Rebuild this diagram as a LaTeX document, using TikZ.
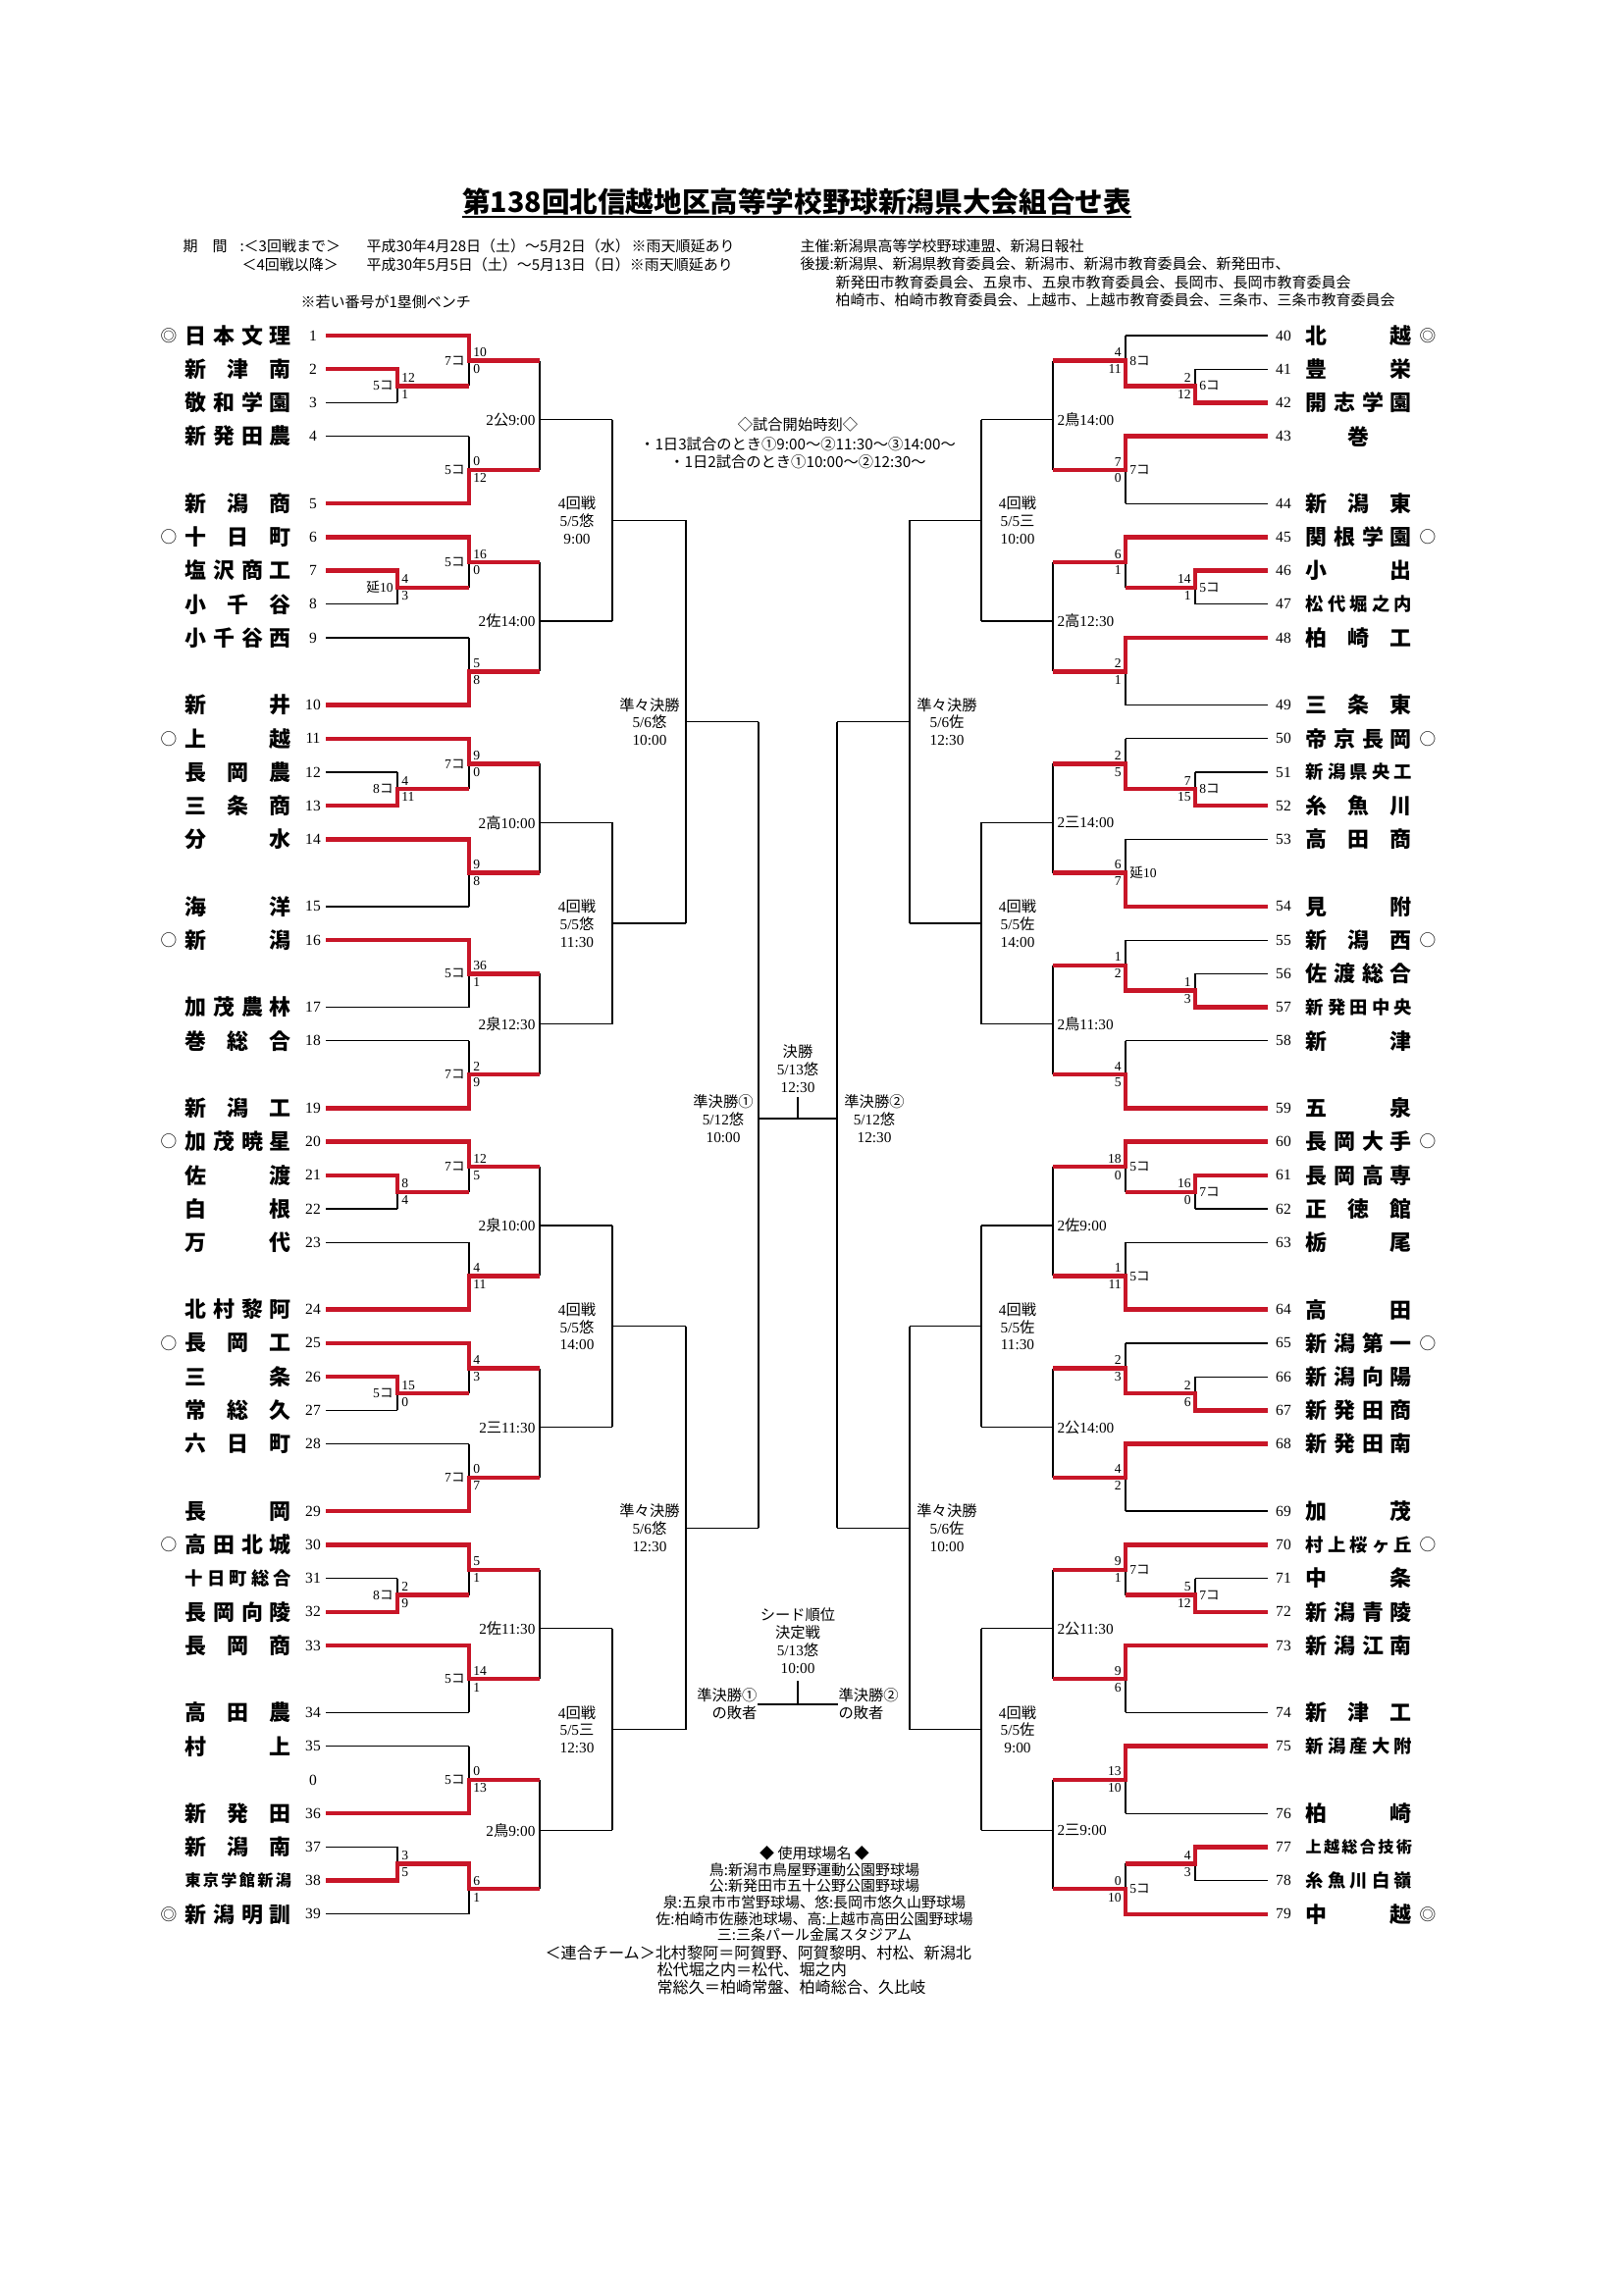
\documentclass[tikz,border=0pt]{standalone}
\usepackage{fontspec}
\setmainfont{Liberation Serif}
\newfontfamily\jp{Noto Sans CJK JP}
\definecolor{bred}{RGB}{200,22,40}
\newcommand\J[1]{{\jp #1}}
\newcommand\slotY[1]{342+34.23*(#1)}
% noms etales sur toute la largeur
\def\spreadB#1{#1\spreadA}
\def\spreadA#1{\ifx#1\relax\else\hfil#1\expandafter\spreadA\fi}
\newcommand\tname[1]{\hbox to 39pt{\expandafter\spreadB#1\relax}}
\tikzset{
  tline/.style={line width=0.45pt},
  win/.style={line width=1.6pt,draw=bred,line join=miter},
  num/.style={font=\fontsize{5.6}{6}\selectfont,inner sep=0pt},
  pts/.style={font=\fontsize{4.9}{5}\selectfont,inner sep=0.3pt},
  rlbl/.style={font=\fontsize{5.5}{6}\selectfont,inner sep=0pt},
  mlbl/.style={font=\fontsize{5.5}{6.4}\selectfont,inner sep=0pt,align=center},
  team/.style={font=\jp\bfseries\fontsize{#1}{#1}\selectfont,inner sep=0pt},
  seedmk/.style={font=\jp\fontsize{6}{6}\selectfont,inner sep=0pt},
  hdr/.style={font=\jp\fontsize{5.4}{6}\selectfont,inner sep=0pt,anchor=west}
}
\begin{document}
\begin{tikzpicture}[x=0.36pt,y=-0.36pt]
% Cadre
\useasboundingbox (0,0) rectangle (1654,2340);
\fill[white] (0,0) rectangle (1654,2340);
% Titre
\node[font=\jp\bfseries\fontsize{10.3}{12}\selectfont,inner sep=0pt] (titre) at (812,206) {第138回北信越地区高等学校野球新潟県大会組合せ表};
\coordinate (soul) at (0,221);
\draw[line width=0.9pt] (titre.west |- soul) -- (titre.east |- soul);
% En-tete
\node[hdr] at (186,251) {期　間};
\node[hdr] at (244,251) {:＜3回戦まで＞};
\node[hdr] at (373,251) {平成30年4月28日（土）〜5月2日（水）};
\node[hdr] at (643,251) {※雨天順延あり};
\node[hdr] at (246,270) {＜4回戦以降＞};
\node[hdr] at (373,270) {平成30年5月5日（土）〜5月13日（日）※雨天順延あり};
\node[hdr] at (306,308) {※若い番号が1塁側ベンチ};
\node[hdr] at (815,251) {主催:新潟県高等学校野球連盟、新潟日報社};
\node[hdr] at (815,269) {後援:新潟県、新潟県教育委員会、新潟市、新潟市教育委員会、新発田市、};
\node[hdr] at (851,288) {新発田市教育委員会、五泉市、五泉市教育委員会、長岡市、長岡市教育委員会};
\node[hdr] at (851,306) {柏崎市、柏崎市教育委員会、上越市、上越市教育委員会、三条市、三条市教育委員会};
% Horaires
\node[font=\jp\fontsize{5.5}{6}\selectfont,inner sep=0pt] at (813,433) {◇試合開始時刻◇};
\node[font=\jp\fontsize{5.5}{6}\selectfont,inner sep=0pt] at (813,453) {・1日3試合のとき①9:00〜②11:30〜③14:00〜};
\node[font=\jp\fontsize{5.5}{6}\selectfont,inner sep=0pt] at (813,471) {・1日2試合のとき①10:00〜②12:30〜};

% Equipes gauche
\foreach \n/\sl/\nm/\jx/\fs in {1/0/日本文理/478/7.9, 2/1/新津南/405/7.9, 3/2/敬和学園/405/7.9,
  4/3/新発田農/478/7.9, 5/5/新潟商/478/7.9, 6/6/十日町/478/7.9, 7/7/塩沢商工/405/7.9,
  8/8/小千谷/405/7.9, 9/9/小千谷西/478/7.9, 10/11/新井/478/7.9, 11/12/上越/478/7.9,
  12/13/長岡農/405/7.9, 13/14/三条商/405/7.9, 14/15/分水/478/7.9, 15/17/海洋/478/7.9,
  16/18/新潟/478/7.9, 17/20/加茂農林/478/7.9, 18/21/巻総合/478/7.9, 19/23/新潟工/478/7.9,
  20/24/加茂暁星/478/7.9, 21/25/佐渡/405/7.9, 22/26/白根/405/7.9, 23/27/万代/478/7.9,
  24/29/北村黎阿/478/7.9, 25/30/長岡工/478/7.9, 26/31/三条/405/7.9, 27/32/常総久/405/7.9,
  28/33/六日町/478/7.9, 29/35/長岡/478/7.9, 30/36/高田北城/478/7.9, 31/37/十日町総合/405/6.6,
  32/38/長岡向陵/405/7.9, 33/39/長岡商/478/7.9, 34/41/高田農/478/7.9, 35/42/村上/478/7.9,
  36/44/新発田/478/7.9, 37/45/新潟南/405/7.9, 38/46/東京学館新潟/405/5.8, 39/47/新潟明訓/478/7.9}
{
  \node[num] (n\n) at (319,{\slotY{\sl}}) {\n};
  \node[team=\fs,anchor=west] (e\n) at (188,{\slotY{\sl}}) {\tname{\nm}};
  \draw[tline] (332,{\slotY{\sl}}) -- (\jx,{\slotY{\sl}});
}
\node[num] (n0) at (319,{\slotY{43}}) {0};
% Equipes droite
\foreach \n/\sl/\nm/\jx/\fs in {40/0/北越/1147/7.9, 41/1/豊栄/1218/7.9, 42/2/開志学園/1218/7.9,
  43/3/\hfil 巻\hfil/1147/7.9, 44/5/新潟東/1147/7.9, 45/6/関根学園/1147/7.9, 46/7/小出/1218/7.9,
  47/8/松代堀之内/1218/6.6, 48/9/柏崎工/1147/7.9, 49/11/三条東/1147/7.9, 50/12/帝京長岡/1147/7.9,
  51/13/新潟県央工/1218/6.6, 52/14/糸魚川/1218/7.9, 53/15/高田商/1147/7.9, 54/17/見附/1147/7.9,
  55/18/新潟西/1147/7.9, 56/19/佐渡総合/1218/7.9, 57/20/新発田中央/1218/6.6, 58/21/新津/1147/7.9,
  59/23/五泉/1147/7.9, 60/24/長岡大手/1147/7.9, 61/25/長岡高専/1218/7.9, 62/26/正徳館/1218/7.9,
  63/27/栃尾/1147/7.9, 64/29/高田/1147/7.9, 65/30/新潟第一/1147/7.9, 66/31/新潟向陽/1218/7.9,
  67/32/新発田商/1218/7.9, 68/33/新発田南/1147/7.9, 69/35/加茂/1147/7.9, 70/36/村上桜ヶ丘/1147/6.6,
  71/37/中条/1218/7.9, 72/38/新潟青陵/1218/7.9, 73/39/新潟江南/1147/7.9, 74/41/新津工/1147/7.9,
  75/42/新潟産大附/1147/6.6, 76/44/柏崎/1147/7.9, 77/45/上越総合技術/1218/5.8,
  78/46/糸魚川白嶺/1218/6.6, 79/47/中越/1147/7.9}
{
  \node[num] (n\n) at (1308,{\slotY{\sl}}) {\n};
  \node[team=\fs,anchor=west] (e\n) at (1330,{\slotY{\sl}}) {\tname{\nm}};
  \draw[tline] (1292,{\slotY{\sl}}) -- (\jx,{\slotY{\sl}});
}
% Sieges
\foreach \sl/\mk in {0/◎, 6/○, 12/○, 18/○, 24/○, 30/○, 36/○, 47/◎}
  \node[seedmk] at (172,{\slotY{\sl}}) {\mk};
\foreach \sl/\mk in {0/◎, 6/○, 12/○, 18/○, 24/○, 30/○, 36/○, 47/◎}
  \node[seedmk] at (1455,{\slotY{\sl}}) {\mk};

% Tableau (traits noirs)
\foreach \xa/\ya/\yb/\yo/\xn in {405/1/2/1.5/478, 478/0/1.5/0.75/550, 478/3/5/4/550, 550/0.75/4/2.5/624,
  405/7/8/7.5/478, 478/6/7.5/6.75/550, 478/9/11/10/550, 550/6.75/10/8.5/624, 624/2.5/8.5/5.5/699,
  405/13/14/13.5/478, 478/12/13.5/12.75/550, 478/15/17/16/550, 550/12.75/16/14.5/624,
  478/18/20/19/550, 478/21/23/22/550, 550/19/22/20.5/624, 624/14.5/20.5/17.5/699, 699/5.5/17.5/11.5/773,
  405/25/26/25.5/478, 478/24/25.5/24.75/550, 478/27/29/28/550, 550/24.75/28/26.5/624,
  405/31/32/31.5/478, 478/30/31.5/30.75/550, 478/33/35/34/550, 550/30.75/34/32.5/624, 624/26.5/32.5/29.5/699,
  405/37/38/37.5/478, 478/36/37.5/36.75/550, 478/39/41/40/550, 550/36.75/40/38.5/624,
  478/42/44/43/550, 405/45/46/45.5/478, 478/45.5/47/46.25/550, 550/43/46.25/44.5/624,
  624/38.5/44.5/41.5/699, 699/29.5/41.5/35.5/773,
  1218/1/2/1.5/1147, 1147/0/1.5/0.75/1073, 1147/3/5/4/1073, 1073/0.75/4/2.5/1000,
  1218/7/8/7.5/1147, 1147/6/7.5/6.75/1073, 1147/9/11/10/1073, 1073/6.75/10/8.5/1000, 1000/2.5/8.5/5.5/927,
  1218/13/14/13.5/1147, 1147/12/13.5/12.75/1073, 1147/15/17/16/1073, 1073/12.75/16/14.5/1000,
  1218/19/20/19.5/1147, 1147/18/19.5/18.75/1073, 1147/21/23/22/1073, 1073/18.75/22/20.5/1000,
  1000/14.5/20.5/17.5/927, 927/5.5/17.5/11.5/853,
  1218/25/26/25.5/1147, 1147/24/25.5/24.75/1073, 1147/27/29/28/1073, 1073/24.75/28/26.5/1000,
  1218/31/32/31.5/1147, 1147/30/31.5/30.75/1073, 1147/33/35/34/1073, 1073/30.75/34/32.5/1000, 1000/26.5/32.5/29.5/927,
  1218/37/38/37.5/1147, 1147/36/37.5/36.75/1073, 1147/39/41/40/1073, 1073/36.75/40/38.5/1000,
  1147/42/44/43/1073, 1218/45/46/45.5/1147, 1147/45.5/47/46.25/1073, 1073/43/46.25/44.5/1000,
  1000/38.5/44.5/41.5/927, 927/29.5/41.5/35.5/853}
{
  \draw[tline] (\xa,{\slotY{\ya}}) -- (\xa,{\slotY{\yb}});
  \draw[tline] (\xa,{\slotY{\yo}}) -- (\xn,{\slotY{\yo}});
}
% Demi-finales et finale
\draw[tline] (773,{\slotY{11.5}}) -- (773,{\slotY{35.5}});
\draw[tline] (853,{\slotY{11.5}}) -- (853,{\slotY{35.5}});
\coordinate (sfA) at (773,1140);
\coordinate (sfB) at (853,1140);
\draw[tline] (sfA) -- (sfB);
\node[mlbl,anchor=south] (fin) at (813,1114) {\J{決勝}\\5/13\J{悠}\\12:30};
\draw[tline] (fin.south |- sfA) -- ++(0,-22);

% Vainqueurs (rouge)
\foreach \xa/\xi/\yw/\yo/\xn in {405/332/1/1.5/478, 478/332/0/0.75/550, 478/332/5/4/550,
  405/332/7/7.5/478, 478/332/6/6.75/550, 478/332/11/10/550,
  405/332/14/13.5/478, 478/332/12/12.75/550, 478/332/15/16/550,
  478/332/18/19/550, 478/332/23/22/550,
  405/332/25/25.5/478, 478/332/24/24.75/550, 478/332/29/28/550,
  405/332/31/31.5/478, 478/332/30/30.75/550, 478/332/35/34/550,
  405/332/38/37.5/478, 478/332/36/36.75/550, 478/332/39/40/550,
  478/332/44/43/550, 405/332/46/45.5/478, 478/405/45.5/46.25/550,
  1218/1292/2/1.5/1147, 1147/1218/1.5/0.75/1073, 1147/1292/3/4/1073,
  1218/1292/7/7.5/1147, 1147/1292/6/6.75/1073, 1147/1292/9/10/1073,
  1218/1292/14/13.5/1147, 1147/1218/13.5/12.75/1073, 1147/1292/17/16/1073,
  1218/1292/20/19.5/1147, 1147/1218/19.5/18.75/1073, 1147/1292/23/22/1073,
  1218/1292/25/25.5/1147, 1147/1292/24/24.75/1073, 1147/1292/29/28/1073,
  1218/1292/32/31.5/1147, 1147/1218/31.5/30.75/1073, 1147/1292/33/34/1073,
  1218/1292/38/37.5/1147, 1147/1292/36/36.75/1073, 1147/1292/39/40/1073,
  1147/1292/42/43/1073, 1218/1292/45/45.5/1147, 1147/1292/47/46.25/1073}
  \draw[win] (\xi,{\slotY{\yw}}) -- (\xa,{\slotY{\yw}}) -- (\xa,{\slotY{\yo}}) -- (\xn,{\slotY{\yo}});

% Scores gauche
\foreach \xa/\yo/\ta/\tb/\ino in {405/1.5/12/1/5\J{コ}, 478/0.75/10/0/7\J{コ}, 478/4/0/12/5\J{コ},
  405/7.5/4/3/\J{延}10, 478/6.75/16/0/5\J{コ}, 478/10/5/8/{},
  405/13.5/4/11/8\J{コ}, 478/12.75/9/0/7\J{コ}, 478/16/9/8/{},
  478/19/36/1/5\J{コ}, 478/22/2/9/7\J{コ},
  405/25.5/8/4/{}, 478/24.75/12/5/7\J{コ}, 478/28/4/11/{},
  405/31.5/15/0/5\J{コ}, 478/30.75/4/3/{}, 478/34/0/7/7\J{コ},
  405/37.5/2/9/8\J{コ}, 478/36.75/5/1/{}, 478/40/14/1/5\J{コ},
  478/43/0/13/5\J{コ}, 405/45.5/3/5/{}, 478/46.25/6/1/{}}
{
  \node[pts,anchor=south west] at ({\xa+3},{\slotY{\yo}-2.5}) {\ta};
  \node[pts,anchor=north west] at ({\xa+3},{\slotY{\yo}+2.5}) {\tb};
  \node[pts,anchor=east] at ({\xa-3},{\slotY{\yo}}) {\ino};
}
% Scores droite
\foreach \xa/\yo/\ta/\tb/\ino in {1218/1.5/2/12/6\J{コ}, 1147/0.75/4/11/8\J{コ}, 1147/4/7/0/7\J{コ},
  1218/7.5/14/1/5\J{コ}, 1147/6.75/6/1/{}, 1147/10/2/1/{},
  1218/13.5/7/15/8\J{コ}, 1147/12.75/2/5/{}, 1147/16/6/7/\J{延}10,
  1218/19.5/1/3/{}, 1147/18.75/1/2/{}, 1147/22/4/5/{},
  1218/25.5/16/0/7\J{コ}, 1147/24.75/18/0/5\J{コ}, 1147/28/1/11/5\J{コ},
  1218/31.5/2/6/{}, 1147/30.75/2/3/{}, 1147/34/4/2/{},
  1218/37.5/5/12/7\J{コ}, 1147/36.75/9/1/7\J{コ}, 1147/40/9/6/{},
  1147/43/13/10/{}, 1218/45.5/4/3/{}, 1147/46.25/0/10/5\J{コ}}
{
  \node[pts,anchor=south east] at ({\xa-3},{\slotY{\yo}-2.5}) {\ta};
  \node[pts,anchor=north east] at ({\xa-3},{\slotY{\yo}+2.5}) {\tb};
  \node[pts,anchor=west] at ({\xa+3},{\slotY{\yo}}) {\ino};
}

% Dates du 3e tour
\foreach \yo/\txt in {2.5/2\J{公}9:00, 8.5/2\J{佐}14:00, 14.5/2\J{高}10:00, 20.5/2\J{泉}12:30,
  26.5/2\J{泉}10:00, 32.5/2\J{三}11:30, 38.5/2\J{佐}11:30, 44.5/2\J{鳥}9:00}
  \node[rlbl,anchor=east] at (546,{\slotY{\yo}}) {\txt};
\foreach \yo/\txt in {2.5/2\J{鳥}14:00, 8.5/2\J{高}12:30, 14.5/2\J{三}14:00, 20.5/2\J{鳥}11:30,
  26.5/2\J{佐}9:00, 32.5/2\J{公}14:00, 38.5/2\J{公}11:30, 44.5/2\J{三}9:00}
  \node[rlbl,anchor=west] at (1077,{\slotY{\yo}}) {\txt};

% 4e tour, quarts, demies
\node[mlbl] at (588,{\slotY{5.5}}) {4\J{回戦}\\5/5\J{悠}\\9:00};
\node[mlbl] at (588,{\slotY{17.5}}) {4\J{回戦}\\5/5\J{悠}\\11:30};
\node[mlbl] at (588,{\slotY{29.5}}) {4\J{回戦}\\5/5\J{悠}\\14:00};
\node[mlbl] at (588,{\slotY{41.5}}) {4\J{回戦}\\5/5\J{三}\\12:30};
\node[mlbl] at (1037,{\slotY{5.5}}) {4\J{回戦}\\5/5\J{三}\\10:00};
\node[mlbl] at (1037,{\slotY{17.5}}) {4\J{回戦}\\5/5\J{佐}\\14:00};
\node[mlbl] at (1037,{\slotY{29.5}}) {4\J{回戦}\\5/5\J{佐}\\11:30};
\node[mlbl] at (1037,{\slotY{41.5}}) {4\J{回戦}\\5/5\J{佐}\\9:00};
\node[mlbl] at (662,{\slotY{11.5}}) {\J{準々決勝}\\5/6\J{悠}\\10:00};
\node[mlbl] at (662,{\slotY{35.5}}) {\J{準々決勝}\\5/6\J{悠}\\12:30};
\node[mlbl] at (965,{\slotY{11.5}}) {\J{準々決勝}\\5/6\J{佐}\\12:30};
\node[mlbl] at (965,{\slotY{35.5}}) {\J{準々決勝}\\5/6\J{佐}\\10:00};
\node[mlbl] at (737,1140) {\J{準決勝①}\\5/12\J{悠}\\10:00};
\node[mlbl] at (891,1140) {\J{準決勝②}\\5/12\J{悠}\\12:30};

% Match de classement
\node[mlbl,anchor=east,align=right] (perd1) at (772,1737) {\J{準決勝①}\\\J{の敗者}};
\node[mlbl,anchor=west,align=left] (perd2) at (854,1737) {\J{準決勝②}\\\J{の敗者}};
\draw[tline] (perd1.east) -- (perd2.west);
\node[mlbl,anchor=south] (seed) at (813,1706) {\J{シード順位}\\\J{決定戦}\\5/13\J{悠}\\10:00};
\draw[tline] (seed.south |- perd1.east) -- ++(0,-24);

% Stades
\node[font=\jp\fontsize{5.4}{6}\selectfont,align=center,inner sep=0pt,anchor=north] at (830,1881)
  {◆ 使用球場名 ◆\\鳥:新潟市鳥屋野運動公園野球場\\公:新発田市五十公野公園野球場\\泉:五泉市市営野球場、悠:長岡市悠久山野球場\\佐:柏崎市佐藤池球場、高:上越市高田公園野球場\\三:三条パール金属スタジアム};
% Equipes unifiees
\node[hdr,font=\jp\fontsize{5.8}{6}\selectfont] at (555,1990) {＜連合チーム＞北村黎阿＝阿賀野、阿賀黎明、村松、新潟北};
\node[hdr,font=\jp\fontsize{5.8}{6}\selectfont] at (669,2007) {松代堀之内＝松代、堀之内};
\node[hdr,font=\jp\fontsize{5.8}{6}\selectfont] at (669,2025) {常総久＝柏崎常盤、柏崎総合、久比岐};
\end{tikzpicture}
\end{document}
